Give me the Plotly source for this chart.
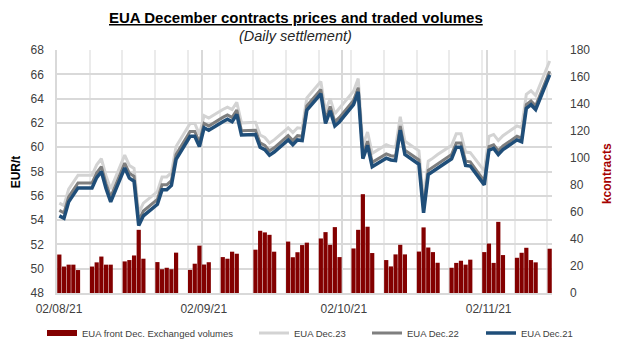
import pandas as pd
import plotly.graph_objects as go

# ---------------- data ----------------
trade_dates = pd.bdate_range("2021-08-02", "2021-11-15")  # weekdays

volumes = [  # kcontracts, EUA front Dec.
    28.5, 19.6, 21.0, 21.0, 17.0,
    19.6, 22.7, 27.0, 21.0, 21.0,
    23.4, 24.4, 27.8, 46.8, 25.4,
    22.9, 17.6, 18.7, 17.6, 29.9,
    17.1, 21.7, 35.1, 21.1, 22.8,
    26.6, 25.4, 30.6, 29.1, None,
    32.1, 46.1, 44.9, 43.1, 30.6,
    38.1, 26.5, 30.2, 35.5, 37.3,
    40.4, 45.1, 35.7, 48.8, 26.6,
    33.0, 46.8, 73.2, 49.1, 29.6,
    24.4, 19.7, 28.6, 35.7, 28.6,
    30.7, 48.6, 33.7, 30.3, 22.4,
    18.7, 22.3, 23.9, 21.0, 24.7,
    30.3, 36.6, 22.3, 52.7, 28.1,
    26.1, 29.8, 33.5, 24.4, 22.7,
    32.8,
]

dec21 = [
    54.35, 54.15, 55.5, 56.1, 56.65,
    56.65, 57.5, 58.0, 56.6, 55.5,
    58.3, 57.45, 57.2, 53.55, 54.35,
    55.3, 56.5, 56.5, 56.85, 59.0,
    60.9, 60.9, 60.05, 61.6, 61.4,
    62.1, 62.3, 62.1, 62.7, 61.0,
    61.05, 60.0, 59.8, 59.35, 59.6,
    60.6, 60.2, 60.6, 60.55, 63.05,
    64.4, 61.95, 63.0, 61.75, 62.1,
    63.5, 64.55, 59.05, 60.15, 58.4,
    59.1, 58.95, 58.9, 61.4, 59.4,
    58.6, 54.6, 57.75, 58.0, 58.3,
    59.05, 60.0, 60.0, 58.5, 58.45,
    56.9, 59.75, 59.9, 59.4, 59.8,
    60.6, 60.45, 63.2, 63.5, 63.1,
    65.95,
]

dec22 = [
    54.8, 54.6, 55.9, 56.5, 57.05,
    57.05, 57.9, 58.4, 57.0, 55.9,
    58.7, 57.85, 57.6, 53.95, 54.75,
    55.7, 56.9, 56.9, 57.25, 59.4,
    61.3, 61.3, 60.4, 61.95, 61.75,
    62.45, 62.65, 62.45, 63.05, 61.35,
    61.4, 60.35, 60.15, 59.7, 59.95,
    60.95, 60.55, 60.95, 60.9, 63.4,
    64.75, 62.3, 63.35, 62.1, 62.45,
    63.85, 64.9, 59.4, 60.5, 58.75,
    59.45, 59.3, 59.25, 61.75, 59.75,
    58.95, 54.95, 58.1, 58.35, 58.65,
    59.4, 60.35, 60.35, 58.85, 58.8,
    57.2, 60.05, 60.2, 59.7, 60.1,
    60.9, 60.75, 63.5, 63.8, 63.4,
    66.25,
]

dec23 = [
    55.4, 55.2, 56.55, 57.15, 57.7,
    57.7, 58.55, 59.05, 57.65, 56.55,
    59.35, 58.5, 58.25, 54.6, 55.4,
    56.35, 57.55, 57.55, 57.9, 60.05,
    61.95, 61.95, 61.05, 62.6, 62.4,
    63.1, 63.3, 63.1, 63.7, 62.0,
    62.05, 61.0, 60.8, 60.35, 60.6,
    61.6, 61.2, 61.6, 61.55, 64.05,
    65.4, 62.95, 64.0, 62.75, 63.2,
    64.6, 65.65, 60.15, 61.25, 59.5,
    60.2, 60.05, 60.0, 62.5, 60.5,
    59.7, 55.7, 58.85, 59.1, 59.4,
    60.15, 61.1, 61.1, 59.6, 59.55,
    58.05, 60.9, 61.05, 60.55, 60.95,
    61.75, 61.6, 64.35, 64.65, 64.25,
    67.1,
]

month_ticks = ["2021-08-02", "2021-09-02", "2021-10-02", "2021-11-02"]
month_labels = ["02/08/21", "02/09/21", "02/10/21", "02/11/21"]

# ---------------- figure ----------------
x_mid = trade_dates + pd.Timedelta(hours=12)
DAY_MS = 86400000
FONT = "Liberation Sans, Arial, sans-serif"

fig = go.Figure()

fig.add_trace(go.Bar(
    x=x_mid, y=volumes, yaxis="y2", width=0.9 * DAY_MS,
    marker=dict(color="#830000", line=dict(width=0)),
    showlegend=False, name="EUA front Dec. Exchanged volumes",
))
# legend proxy for the bars (wide flat symbol like the original)
fig.add_trace(go.Scatter(
    x=[None], y=[None], mode="lines", yaxis="y2",
    line=dict(color="#830000", width=6),
    name="EUA front Dec. Exchanged volumes", legend="legend",
))
fig.add_trace(go.Scatter(
    x=x_mid, y=dec23, mode="lines", line=dict(color="#d3d3d3", width=3),
    name="EUA Dec.23", legend="legend2",
))
fig.add_trace(go.Scatter(
    x=x_mid, y=dec22, mode="lines", line=dict(color="#7f7f7f", width=3),
    name="EUA Dec.22", legend="legend3",
))
fig.add_trace(go.Scatter(
    x=x_mid, y=dec21, mode="lines", line=dict(color="#1f4e79", width=3.5),
    name="EUA Dec.21", legend="legend4",
))

leg_common = dict(orientation="h", xanchor="left", yanchor="middle",
                  xref="container", yref="container", y=1 - 333 / 350,
                  bgcolor="rgba(0,0,0,0)", borderwidth=0,
                  font=dict(family=FONT, size=9.5, color="#404040"))

fig.update_layout(
    width=618, height=350,
    margin=dict(l=57, r=66, t=50, b=57, autoexpand=False),
    paper_bgcolor="white", plot_bgcolor="white",
    showlegend=True,
    legend=dict(x=42 / 618, **leg_common),
    legend2=dict(x=254 / 618, **leg_common),
    legend3=dict(x=367 / 618, **leg_common),
    legend4=dict(x=481 / 618, **leg_common),
    xaxis=dict(
        type="date", range=["2021-08-02", "2021-11-16"],
        tickvals=month_ticks, ticktext=month_labels, ticklabelshift=2,
        showgrid=True, gridcolor="#d9d9d9", gridwidth=2,
        minor=dict(tick0="2021-08-02", dtick=7 * DAY_MS, showgrid=True,
                   gridcolor="#ebebeb", gridwidth=1.5),
        showline=True, linecolor="#d9d9d9", linewidth=1.5,
        ticks="", zeroline=False, ticklabelstandoff=4,
        tickfont=dict(family=FONT, size=12, color="#404040"),
    ),
    yaxis=dict(
        range=[48, 68], dtick=2, showgrid=True, gridcolor="#d9d9d9", gridwidth=1.5,
        showline=True, linecolor="#d9d9d9", linewidth=1.5, zeroline=False,
        ticks="", ticklabelstandoff=9,
        tickfont=dict(family=FONT, size=12, color="#404040"),
    ),
    yaxis2=dict(
        range=[0, 180], dtick=20, overlaying="y", side="right",
        showgrid=False, zeroline=False, showline=False, ticks="",
        ticklabelstandoff=17,
        tickfont=dict(family=FONT, size=12, color="#404040"),
    ),
    annotations=[
        dict(text="<b><u>EUA December contracts prices and traded volumes</u></b>",
             xref="paper", yref="paper", x=0.4825, y=1.135, xanchor="center", yanchor="middle",
             showarrow=False, font=dict(family=FONT, size=15, color="#000000")),
        dict(text="<i>(Daily settlement)</i>",
             xref="paper", yref="paper", x=0.4825, y=1.0575, xanchor="center", yanchor="middle",
             showarrow=False, font=dict(family=FONT, size=14.5, color="#262626")),
        dict(text="<b>EUR/t</b>", textangle=-90,
             xref="paper", yref="paper", x=-0.0832, y=0.5, xanchor="center", yanchor="middle",
             showarrow=False, font=dict(family=FONT, size=12, color="#000000")),
        dict(text="<b>kcontracts</b>", textangle=-90,
             xref="paper", yref="paper", x=1.1115, y=0.49, xanchor="center", yanchor="middle",
             showarrow=False, font=dict(family=FONT, size=12, color="#a50000")),
    ],
)

fig.write_html("out.html")
